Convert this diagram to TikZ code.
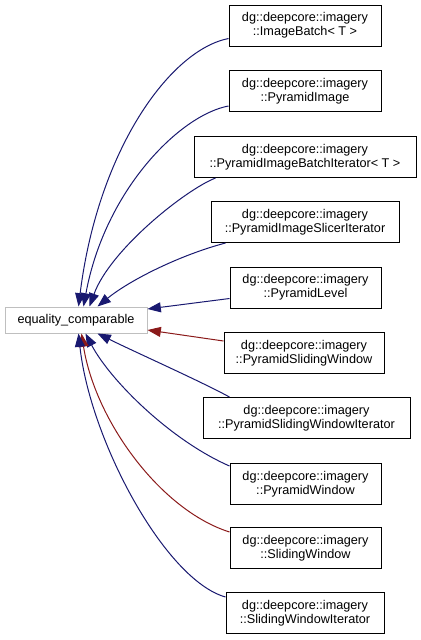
\documentclass[tikz,border=0pt]{standalone}
\usepackage{fontspec}
\setmainfont{Liberation Sans}
\usetikzlibrary{arrows.meta}
\definecolor{eblue}{HTML}{191970}
\definecolor{ered}{HTML}{8B1A1A}
\definecolor{egrey}{HTML}{BFBFBF}
\begin{document}
\begin{tikzpicture}[x=0.75pt,y=-0.75pt,
  cls/.style={draw=black,fill=white,line width=0.75pt,inner sep=0pt,align=center,
    minimum height=41*0.75pt,font=\fontsize{9.5}{10.5}\selectfont},
  ext/.style={draw=egrey,fill=white,line width=0.75pt,inner sep=0pt,
    minimum height=26*0.75pt,minimum width=142*0.75pt,font=\fontsize{9.5}{10.5}\selectfont},
  be/.style={draw=eblue,line width=0.75pt,-{Triangle[length=10pt,width=7.5pt]}},
  re/.style={draw=ered,line width=0.75pt,-{Triangle[length=10pt,width=7.5pt]}}]
\useasboundingbox (0,0) rectangle (421,640);
\node[ext] (eq) at (76,320) {equality\_comparable};
\node[cls,minimum width=152*0.75pt] (b1) at (305,25.5) {dg::deepcore::imagery\\::ImageBatch< T >};
\node[cls,minimum width=152*0.75pt] (b2) at (305,91) {dg::deepcore::imagery\\::PyramidImage};
\node[cls,minimum width=222*0.75pt] (b3) at (305,157) {dg::deepcore::imagery\\::PyramidImageBatchIterator< T >};
\node[cls,minimum width=188*0.75pt] (b4) at (305,222) {dg::deepcore::imagery\\::PyramidImageSlicerIterator};
\node[cls,minimum width=151*0.75pt] (b5) at (305.5,287.5) {dg::deepcore::imagery\\::PyramidLevel};
\node[cls,minimum width=160*0.75pt] (b6) at (304,353) {dg::deepcore::imagery\\::PyramidSlidingWindow};
\node[cls,minimum width=207*0.75pt] (b7) at (306.5,418) {dg::deepcore::imagery\\::PyramidSlidingWindowIterator};
\node[cls,minimum width=151*0.75pt] (b8) at (305.5,484) {dg::deepcore::imagery\\::PyramidWindow};
\node[cls,minimum width=151*0.75pt] (b9) at (305.5,548) {dg::deepcore::imagery\\::SlidingWindow};
\node[cls,minimum width=158*0.75pt] (b10) at (305,613) {dg::deepcore::imagery\\::SlidingWindowIterator};
\draw[be] ([shift={(0,-8)}]b1.south west) .. controls (170,50) and (98,150) .. ([shift={(74,0)}]eq.north west);
\draw[be] ([shift={(0,-6)}]b2.south west) .. controls (180,115) and (105,190) .. ([shift={(79,0)}]eq.north west);
\draw[be] ([shift={(22,0)}]b3.south west) .. controls (185,190) and (110,250) .. ([shift={(85,0)}]eq.north west);
\draw[be] ([shift={(15,0)}]b4.south west) .. controls (180,255) and (130,280) .. ([shift={(93,0)}]eq.north west);
\draw[be] ([shift={(0,-10)}]b5.south west) -- ([shift={(0,-11)}]eq.east);
\draw[re] ([shift={(0,9)}]b6.north west) -- ([shift={(0,10)}]eq.east);
\draw[be] ([shift={(27,0)}]b7.north west) .. controls (200,381) and (135,352) .. ([shift={(93,0)}]eq.south west);
\draw[be] ([shift={(0,3)}]b8.north west) .. controls (170,440) and (110,380) .. ([shift={(81,0)}]eq.south west);
\draw[re] ([shift={(0,5)}]b9.north west) .. controls (160,510) and (95,420) .. ([shift={(77,0)}]eq.south west);
\draw[be] ([shift={(0,5)}]b10.north west) .. controls (165,580) and (90,440) .. ([shift={(74,0)}]eq.south west);
\end{tikzpicture}
\end{document}
